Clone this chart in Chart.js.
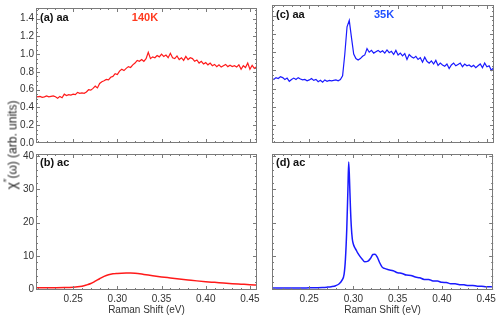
<!DOCTYPE html>
<html>
<head>
<meta charset="utf-8">
<script src="https://cdn.jsdelivr.net/npm/chart.js@4.4.0/dist/chart.umd.min.js"></script>
<style>
  html, body { margin: 0; padding: 0; background: #fff; }
  #wrap { position: relative; width: 499px; height: 321px; overflow: hidden; }
  #wrap canvas { position: absolute; left: 0; top: 0; }
  #ylab {
    position: absolute; left: 11px; top: 145px;
    transform: translate(-50%, -50%) rotate(-90deg);
    white-space: nowrap; color: #222;
    font: 12px "Liberation Sans", Arial, sans-serif;
  }
  #ylab .chi { font-size: 14px; }
</style>
</head>
<body>
<div id="wrap">
  <canvas id="panelA" width="499" height="321"></canvas>
  <canvas id="panelB" width="499" height="321"></canvas>
  <canvas id="panelC" width="499" height="321"></canvas>
  <canvas id="panelD" width="499" height="321"></canvas>
  <div id="ylab"><span class="chi">χ</span><sup>″</sup>(ω) (arb. units)</div>
</div>
<script>
// Raman shift grid (eV) for the aa spectra
const shiftAA = [
  0.2075, 0.2100, 0.2125, 0.2150, 0.2175, 0.2200, 0.2225, 0.2250, 0.2275, 0.2300,
  0.2325, 0.2350, 0.2375, 0.2400, 0.2425, 0.2450, 0.2475, 0.2500, 0.2525, 0.2550,
  0.2575, 0.2600, 0.2625, 0.2650, 0.2675, 0.2700, 0.2725, 0.2750, 0.2775, 0.2800,
  0.2825, 0.2850, 0.2875, 0.2900, 0.2925, 0.2950, 0.2975, 0.3000, 0.3025, 0.3050,
  0.3075, 0.3100, 0.3125, 0.3150, 0.3175, 0.3200, 0.3225, 0.3250, 0.3275, 0.3300,
  0.3325, 0.3350, 0.3375, 0.3400, 0.3425, 0.3450, 0.3475, 0.3500, 0.3525, 0.3550,
  0.3575, 0.3600, 0.3625, 0.3650, 0.3675, 0.3700, 0.3725, 0.3750, 0.3775, 0.3800,
  0.3825, 0.3850, 0.3875, 0.3900, 0.3925, 0.3950, 0.3975, 0.4000, 0.4025, 0.4050,
  0.4075, 0.4100, 0.4125, 0.4150, 0.4175, 0.4200, 0.4225, 0.4250, 0.4275, 0.4300,
  0.4325, 0.4350, 0.4375, 0.4400, 0.4425, 0.4450, 0.4475, 0.4500, 0.4525, 0.4550,
  0.4575
];

// (a) aa, 140K
const chiAA140 = [
  0.53, 0.52, 0.525, 0.515, 0.52, 0.53, 0.52, 0.525, 0.53, 0.52,
  0.505, 0.525, 0.51, 0.55, 0.535, 0.545, 0.54, 0.55, 0.545, 0.57,
  0.56, 0.565, 0.56, 0.575, 0.60, 0.595, 0.615, 0.64, 0.62, 0.67,
  0.69, 0.70, 0.715, 0.71, 0.74, 0.75, 0.78, 0.77, 0.81, 0.83,
  0.815, 0.84, 0.86, 0.85, 0.88, 0.90, 0.93, 0.92, 0.94, 0.92,
  0.95, 1.02, 0.95, 0.97, 0.96, 0.985, 0.97, 1.00, 0.975, 0.99,
  0.96, 1.01, 0.96, 0.95, 0.98, 0.94, 0.96, 0.93, 0.975, 0.94,
  0.96, 0.95, 0.92, 0.935, 0.90, 0.92, 0.89, 0.905, 0.88, 0.90,
  0.87, 0.885, 0.86, 0.88, 0.855, 0.87, 0.885, 0.86, 0.875, 0.86,
  0.87, 0.855, 0.88, 0.83, 0.87, 0.85, 0.90, 0.83, 0.875, 0.84,
  0.86
];

// (c) aa, 35K
const chiAA35 = [
  0.71, 0.70, 0.72, 0.71, 0.73, 0.72, 0.70, 0.715, 0.68, 0.70,
  0.715, 0.70, 0.72, 0.705, 0.695, 0.70, 0.685, 0.695, 0.71, 0.69,
  0.70, 0.675, 0.69, 0.67, 0.695, 0.68, 0.69, 0.685, 0.69, 0.695,
  0.685, 0.70, 0.74, 0.98, 1.28, 1.35, 1.16, 0.98, 0.93, 0.915,
  0.93, 0.955, 0.97, 1.04, 1.00, 1.02, 0.99, 1.005, 1.02, 1.00,
  1.015, 0.99, 1.025, 0.995, 1.01, 0.975, 1.02, 0.97, 0.99, 0.96,
  0.985, 0.92, 0.975, 0.95, 0.935, 0.955, 0.92, 0.94, 0.89, 0.945,
  0.90, 0.88, 0.905, 0.87, 0.91, 0.855, 0.88, 0.86, 0.845, 0.87,
  0.82, 0.86, 0.88, 0.85, 0.865, 0.88, 0.84, 0.87, 0.85, 0.86,
  0.84, 0.855, 0.83, 0.85, 0.87, 0.83, 0.88, 0.84, 0.85, 0.80,
  0.83
];

// (b) ac, 140K
const shiftAC140 = [
  0.208, 0.22, 0.23, 0.24, 0.25, 0.255, 0.26, 0.265, 0.27, 0.275,
  0.28, 0.285, 0.29, 0.295, 0.30, 0.31, 0.315, 0.32, 0.33, 0.34,
  0.35, 0.36, 0.37, 0.38, 0.39, 0.40, 0.41, 0.42, 0.43, 0.44,
  0.45, 0.458
];
const chiAC140 = [
  0.35, 0.37, 0.40, 0.45, 0.55, 0.65, 0.85, 1.2, 1.65, 2.35,
  3.1, 3.8, 4.3, 4.6, 4.7, 4.8, 4.8, 4.75, 4.4, 4.0,
  3.65, 3.35, 3.05, 2.75, 2.45, 2.2, 2.0, 1.8, 1.6, 1.45,
  1.3, 1.2
];

// (d) ac, 35K
const shiftAC35 = [
  0.208, 0.22, 0.235, 0.25, 0.26, 0.265, 0.27, 0.275, 0.28, 0.284,
  0.287, 0.2895, 0.291, 0.2925, 0.2938, 0.2947, 0.2956, 0.2966, 0.2976, 0.2988,
  0.300, 0.3015, 0.303, 0.305, 0.307, 0.310, 0.3127, 0.3165, 0.3195, 0.322,
  0.3245, 0.327, 0.3296, 0.3325, 0.335, 0.340, 0.345, 0.350, 0.355, 0.360,
  0.365, 0.370, 0.375, 0.380, 0.385, 0.390, 0.395, 0.400, 0.405, 0.410,
  0.415, 0.420, 0.425, 0.430, 0.435, 0.440, 0.445, 0.450, 0.455, 0.458
];
const chiAC35 = [
  0.3, 0.3, 0.3, 0.35, 0.4, 0.45, 0.55, 0.7, 1.0, 1.6,
  2.6, 4.5, 9, 18, 30, 38.3, 33, 25, 19, 15,
  13.5, 12.5, 11.8, 10.8, 10, 9, 8.2, 8.4, 9.3, 10.4,
  10.5, 9.6, 8.0, 6.6, 6.2, 5.8, 5.5, 4.9, 4.7, 4.2,
  4.1, 3.6, 3.4, 2.9, 2.9, 2.4, 2.4, 2.0, 1.95, 1.6,
  1.55, 1.3, 1.25, 1.05, 1.05, 0.85, 0.85, 0.7, 0.7, 0.6
];

// axis ticks
const xMin = 0.208, xMax = 0.458;
const xMajor = [0.25, 0.30, 0.35, 0.40, 0.45];
const xMinor = [0.21, 0.22, 0.23, 0.24, 0.26, 0.27, 0.28, 0.29, 0.31, 0.32, 0.33, 0.34,
                0.36, 0.37, 0.38, 0.39, 0.41, 0.42, 0.43, 0.44, 0.46];
const yMajorAA = [0, 0.2, 0.4, 0.6, 0.8, 1.0, 1.2, 1.4];
const yMinorAA = [0.05, 0.1, 0.15, 0.25, 0.3, 0.35, 0.45, 0.5, 0.55, 0.65, 0.7, 0.75,
                  0.85, 0.9, 0.95, 1.05, 1.1, 1.15, 1.25, 1.3, 1.35, 1.45, 1.5];
const yMajorAC = [0, 10, 20, 30, 40];
const yMinorAC = [2, 4, 6, 8, 12, 14, 16, 18, 22, 24, 26, 28, 32, 34, 36, 38];

Chart.defaults.font.family = '"Liberation Sans", Arial, sans-serif';
Chart.defaults.font.size = 10;
Chart.defaults.color = '#333';

// frame around the plot with inward ticks on all four sides
const frameTicks = {
  id: 'frameTicks',
  afterDraw(chart, args, o) {
    const {ctx, chartArea: a, scales} = chart;
    ctx.save();
    ctx.strokeStyle = '#7a7a7a';
    ctx.lineWidth = 1;
    ctx.beginPath();
    const xs = (vals, len) => vals.forEach(v => {
      const px = Math.round(scales.x.getPixelForValue(v)) + 0.5;
      if (px < a.left || px > a.right) return;
      ctx.moveTo(px, a.bottom); ctx.lineTo(px, a.bottom - len);
      ctx.moveTo(px, a.top); ctx.lineTo(px, a.top + len);
    });
    const ys = (vals, len) => vals.forEach(v => {
      const py = Math.round(scales.y.getPixelForValue(v)) + 0.5;
      if (py < a.top || py > a.bottom) return;
      ctx.moveTo(a.left, py); ctx.lineTo(a.left + len, py);
      ctx.moveTo(a.right, py); ctx.lineTo(a.right - len, py);
    });
    xs(o.xMajor, 4); xs(o.xMinor, 2);
    ys(o.yMajor, 4); ys(o.yMinor, 2);
    ctx.stroke();
    ctx.strokeRect(Math.round(a.left) + 0.5, Math.round(a.top) + 0.5,
                   Math.round(a.right - a.left) - 1, Math.round(a.bottom - a.top) - 1);
    ctx.restore();
  }
};

// panel letters and temperatures
const panelText = {
  id: 'panelText',
  afterDraw(chart, args, o) {
    const {ctx, chartArea: a} = chart;
    ctx.save();
    ctx.textBaseline = 'middle';
    o.items.forEach(t => {
      ctx.font = 'bold 11px "Liberation Sans", Arial, sans-serif';
      ctx.fillStyle = t.color;
      ctx.textAlign = t.align;
      ctx.fillText(t.text, a.left + t.dx, a.top + t.dy);
    });
    ctx.restore();
  }
};

const makePanel = (id, cfg) => new Chart(document.getElementById(id), {
  type: 'line',
  data: {
    datasets: [{
      data: cfg.x.map((v, i) => ({x: v, y: cfg.y[i]})),
      borderColor: cfg.color,
      borderWidth: cfg.lw,
      pointRadius: 0,
      fill: false,
      tension: 0,
      cubicInterpolationMode: cfg.smooth ? 'monotone' : 'default'
    }]
  },
  options: {
    responsive: false,
    animation: false,
    events: [],
    layout: {padding: cfg.pad},
    plugins: {
      legend: {display: false},
      tooltip: {enabled: false},
      frameTicks: {xMajor, xMinor, yMajor: cfg.yMajor, yMinor: cfg.yMinor},
      panelText: {items: cfg.labels}
    },
    scales: {
      x: {
        type: 'linear', min: xMin, max: xMax,
        grid: {display: false, drawTicks: false}, border: {display: false},
        ticks: {display: cfg.xLabels, padding: 3, maxRotation: 0, color: '#333',
                callback: v => v.toFixed(2)},
        afterBuildTicks: s => { s.ticks = xMajor.map(v => ({value: v})); },
        afterFit: s => { s.height = cfg.xH; },
        title: {display: cfg.xLabels, text: 'Raman Shift (eV)', color: '#333',
                font: {size: 10}, padding: {top: 0, bottom: 5}}
      },
      y: {
        type: 'linear', min: cfg.yMin, max: cfg.yMax,
        grid: {display: false, drawTicks: false}, border: {display: false},
        ticks: {display: cfg.yLabels, padding: 2, color: '#333',
                callback: cfg.yFmt},
        afterBuildTicks: s => { s.ticks = cfg.yMajor.map(v => ({value: v})); },
        afterFit: s => { s.width = cfg.yW; }
      }
    }
  },
  plugins: [frameTicks, panelText]
});

const red = '#ff1a1a', blue = '#1a1aff';

makePanel('panelA', {
  x: shiftAA, y: chiAA140, color: red, lw: 1.2, smooth: false,
  pad: {left: 0, right: 242, top: 5, bottom: 178},
  xLabels: false, xH: 0, yLabels: true, yW: 36,
  yMin: 0, yMax: 1.52, yMajor: yMajorAA, yMinor: yMinorAA, yFmt: v => v.toFixed(1),
  labels: [{text: '(a) aa', color: '#111', align: 'left', dx: 4, dy: 10},
           {text: '140K', color: '#ff3a1f', align: 'center', dx: 109, dy: 10}]
});

makePanel('panelB', {
  x: shiftAC140, y: chiAC140, color: red, lw: 1.5, smooth: true,
  pad: {left: 0, right: 242, top: 154, bottom: 0},
  xLabels: true, xH: 31, yLabels: true, yW: 36,
  yMin: -0.3, yMax: 40.7, yMajor: yMajorAC, yMinor: yMinorAC, yFmt: v => String(v),
  labels: [{text: '(b) ac', color: '#111', align: 'left', dx: 4, dy: 9}]
});

makePanel('panelC', {
  x: shiftAA, y: chiAA35, color: blue, lw: 1.2, smooth: false,
  pad: {left: 272, right: 5, top: 5, bottom: 178},
  xLabels: false, xH: 0, yLabels: false, yW: 0,
  yMin: 0, yMax: 1.52, yMajor: yMajorAA, yMinor: yMinorAA, yFmt: v => v.toFixed(1),
  labels: [{text: '(c) aa', color: '#111', align: 'left', dx: 4, dy: 10},
           {text: '35K', color: '#2250ff', align: 'center', dx: 112, dy: 10}]
});

makePanel('panelD', {
  x: shiftAC35, y: chiAC35, color: blue, lw: 1.5, smooth: true,
  pad: {left: 272, right: 5, top: 154, bottom: 0},
  xLabels: true, xH: 31, yLabels: false, yW: 0,
  yMin: -0.3, yMax: 40.7, yMajor: yMajorAC, yMinor: yMinorAC, yFmt: v => String(v),
  labels: [{text: '(d) ac', color: '#111', align: 'left', dx: 4, dy: 9}]
});
</script>
</body>
</html>
